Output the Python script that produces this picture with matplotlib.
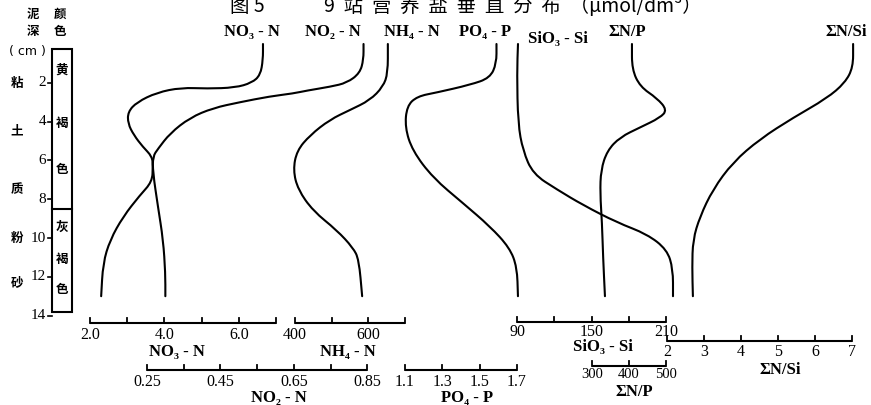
import numpy as np
import matplotlib
matplotlib.use('Agg')
import matplotlib.pyplot as plt
from matplotlib.path import Path
from matplotlib.patches import PathPatch, Rectangle

W, H = 871, 405
SERIF = ['Liberation Serif', 'DejaVu Serif']
CJK = ['Noto Sans CJK SC', 'DejaVu Sans']

# depth (cm) / value pairs
no3_depth = [0.0, 0.8, 1.6, 2.0, 2.25, 2.3, 2.25, 2.5, 3.0, 3.5, 4.1, 4.7, 5.3, 5.8, 6.3, 7.1, 7.8, 8.9, 10.1, 11.3, 13.0]
no3 = [6.65, 6.65, 6.58, 6.35, 5.90, 5.15, 4.45, 3.80, 3.26, 3.02, 3.02, 3.18, 3.42, 3.67, 3.69, 3.67, 3.34, 2.89, 2.54, 2.35, 2.30]

no2_depth = [0.0, 0.8, 1.5, 2.0, 2.2, 2.4, 2.55, 2.7, 3.0, 3.3, 3.8, 4.6, 5.4, 5.8, 6.6, 8.4, 10.1, 11.8, 13.0]
no2 = [0.84, 0.84, 0.83, 0.795, 0.75, 0.686, 0.648, 0.585, 0.503, 0.43, 0.367, 0.313, 0.28, 0.266, 0.266, 0.28, 0.294, 0.30, 0.30]

nh4_depth = [0.0, 1.5, 2.2, 2.9, 3.4, 3.9, 4.7, 5.5, 6.5, 7.5, 8.6, 9.6, 10.5, 11.1, 13.0]
nh4 = [653, 653, 640, 604, 550, 495, 441, 405, 395, 408, 449, 514, 558, 574, 583]

po4_depth = [0.0, 1.0, 1.75, 2.1, 2.5, 2.7, 3.2, 4.3, 5.5, 6.9, 8.2, 9.4, 10.5, 11.5, 13.0]
po4 = [1.59, 1.59, 1.555, 1.45, 1.27, 1.165, 1.11, 1.10, 1.14, 1.25, 1.41, 1.555, 1.66, 1.70, 1.705]

sio3_depth = [0.0, 1.5, 4.1, 5.5, 6.7, 7.5, 8.3, 9.2, 9.8, 10.6, 11.6, 13.0]
sio3 = [90.8, 90.0, 90.8, 94.8, 102.9, 122.2, 143.1, 170.5, 194.7, 210.8, 215.6, 215.6]

np_depth = [0.0, 1.3, 2.2, 2.8, 3.4, 3.8, 4.3, 4.8, 5.5, 6.5, 7.7, 9.2, 11.0, 13.0]
n_p = [408, 408, 430, 476, 503, 484, 430, 376, 341, 324, 322, 327, 330, 335]

nsi_depth = [0.0, 1.2, 2.0, 2.8, 3.8, 4.9, 6.1, 7.5, 8.9, 10.1, 11.5, 13.0]
n_si = [7.03, 7.03, 6.81, 6.32, 5.41, 4.51, 3.78, 3.24, 2.89, 2.70, 2.68, 2.70]

depth_ticks = [2, 4, 6, 8, 10, 12, 14]
soil_labels = ['粘', '土', '质', '粉', '砂']
color_upper = ['黄', '褐', '色']
color_lower = ['灰', '褐', '色']

# vertical layout: pixel row of depth 0 and pixels per cm
Y0, PPC = 44.0, 19.4


def d(ypix):
    return (ypix - Y0) / PPC


D_TOP, D_BOT = d(0), d(H)

fig = plt.figure(figsize=(W / 100, H / 100), dpi=100)
fig.patch.set_facecolor('white')


def make_ax(v0, x0, ppu):
    # v0 sits at pixel column x0, ppu pixels per unit
    ax = fig.add_axes([0, 0, 1, 1])
    ax.set_xlim(v0 - x0 / ppu, v0 + (W - x0) / ppu)
    ax.set_ylim(D_BOT, D_TOP)
    ax.axis('off')
    ax.patch.set_alpha(0)
    return ax


def curve(ax, vals, depth):
    pts = np.column_stack([vals, depth]).astype(float)
    verts = [pts[0], (pts[0] + pts[1]) / 2]
    codes = [Path.MOVETO, Path.LINETO]
    for i in range(1, len(pts) - 1):
        verts += [pts[i], (pts[i] + pts[i + 1]) / 2]
        codes += [Path.CURVE3, Path.CURVE3]
    verts.append(pts[-1])
    codes.append(Path.LINETO)
    ax.add_patch(PathPatch(Path(verts, codes), fill=False, lw=1.5, color='black', capstyle='round'))


def scale_bar(ax, ticks, labels, ybar, ylab, name, xname, yname, fs=11.5):
    yb = d(ybar)
    tl = 5 / PPC
    ax.plot([ticks[0], ticks[-1]], [yb, yb], color='black', lw=1.5, solid_capstyle='butt')
    for t in ticks:
        ax.plot([t, t], [yb, yb - tl], color='black', lw=1.3)
    for t, s in labels:
        ax.text(t, d(ylab), s, ha='center', va='center', fontsize=fs, family=SERIF)
    ax.text(xname, d(yname), name, ha='center', va='center', fontsize=12,
            family=SERIF, weight='bold')


# --- left depth column ---
base = fig.add_axes([0, 0, 1, 1])
base.set_xlim(0, W)
base.set_ylim(D_BOT, D_TOP)
base.axis('off')
base.add_patch(Rectangle((52, d(49)), 20, d(312) - d(49), fill=False, lw=1.5, ec='black'))
base.plot([52, 72], [d(209), d(209)], color='black', lw=1.5)
for t in depth_ticks:
    base.plot([48, 52], [t, t], color='black', lw=1.2)
    base.text(46, t, str(t), ha='right', va='center', fontsize=11, family=SERIF)
for s, yp in zip(soil_labels, [83, 131, 190, 238, 283]):
    base.text(17, d(yp), s, ha='center', va='center', fontsize=9, family=CJK, weight='bold')
for s, yp in zip(color_upper, [70, 123, 170]):
    base.text(62, d(yp), s, ha='center', va='center', fontsize=9, family=CJK, weight='bold')
for s, yp in zip(color_lower, [227, 260, 290]):
    base.text(62, d(yp), s, ha='center', va='center', fontsize=9, family=CJK, weight='bold')
base.text(33, d(14), '泥', ha='center', va='center', fontsize=9, family=CJK, weight='bold')
base.text(60, d(14), '颜', ha='center', va='center', fontsize=9, family=CJK, weight='bold')
base.text(33, d(31), '深', ha='center', va='center', fontsize=9, family=CJK, weight='bold')
base.text(60, d(31), '色', ha='center', va='center', fontsize=9, family=CJK, weight='bold')
base.text(27, d(51), '( cm )', ha='center', va='center', fontsize=9, family=['DejaVu Sans'])

# caption, partly cut by the top edge as in the scan
base.text(247, d(6), '图 5', ha='center', va='center', fontsize=14, family=CJK)
base.text(324, d(6), '9  站  营  养  盐  垂  直  分  布  （μmol/dm³）', ha='left', va='center',
          fontsize=14, family=CJK)

# top labels of each profile
for s, xp, yp in [('NO₃ - N', 252, 32), ('NO₂ - N', 333, 32), ('NH₄ - N', 412, 32),
                  ('PO₄ - P', 485, 32), ('SiO₃ - Si', 558, 39), ('ΣN/P', 627, 32),
                  ('ΣN/Si', 846, 32)]:
    base.text(xp, d(yp), s, ha='center', va='center', fontsize=12, family=SERIF, weight='bold')

# --- profiles, each with its own x scale ---
ax_no3 = make_ax(2.0, 90, 37.2)
curve(ax_no3, no3, no3_depth)
scale_bar(ax_no3, [2, 3, 4, 5, 6, 7], [(2, '2.0'), (4, '4.0'), (6, '6.0')], 323, 335,
          'NO₃ - N', 4.35, 352)

ax_no2 = make_ax(0.25, 147, 367)
curve(ax_no2, no2, no2_depth)
scale_bar(ax_no2, [0.25, 0.35, 0.45, 0.55, 0.65, 0.75, 0.85],
          [(0.25, '0.25'), (0.45, '0.45'), (0.65, '0.65'), (0.85, '0.85')], 370, 382,
          'NO₂ - N', 0.61, 398)

ax_nh4 = make_ax(400, 295, 0.367)
curve(ax_nh4, nh4, nh4_depth)
scale_bar(ax_nh4, [400, 500, 600, 700], [(400, '400'), (600, '600')], 323, 335,
          'NH₄ - N', 545, 352)

ax_po4 = make_ax(1.1, 405, 186.7)
curve(ax_po4, po4, po4_depth)
scale_bar(ax_po4, [1.1, 1.3, 1.5, 1.7], [(1.1, '1.1'), (1.3, '1.3'), (1.5, '1.5'), (1.7, '1.7')],
          370, 382, 'PO₄ - P', 1.43, 398)

ax_si = make_ax(90, 517, 1.242)
curve(ax_si, sio3, sio3_depth)
scale_bar(ax_si, [90, 120, 150, 180, 210], [(90, '90'), (150, '150'), (210, '210')], 322, 332,
          'SiO₃ - Si', 159, 347)

ax_np = make_ax(300, 592, 0.37)
curve(ax_np, n_p, np_depth)
scale_bar(ax_np, [300, 400, 500], [(300, '300'), (400, '400'), (500, '500')], 366, 375,
          'ΣN/P', 415, 392, fs=10.5)

ax_nsi = make_ax(2, 667, 37)
curve(ax_nsi, n_si, nsi_depth)
scale_bar(ax_nsi, [2, 3, 4, 5, 6, 7], [(v, str(v)) for v in range(2, 8)], 341, 352,
          'ΣN/Si', 5.05, 370)

fig.savefig('out.png', dpi=100)
